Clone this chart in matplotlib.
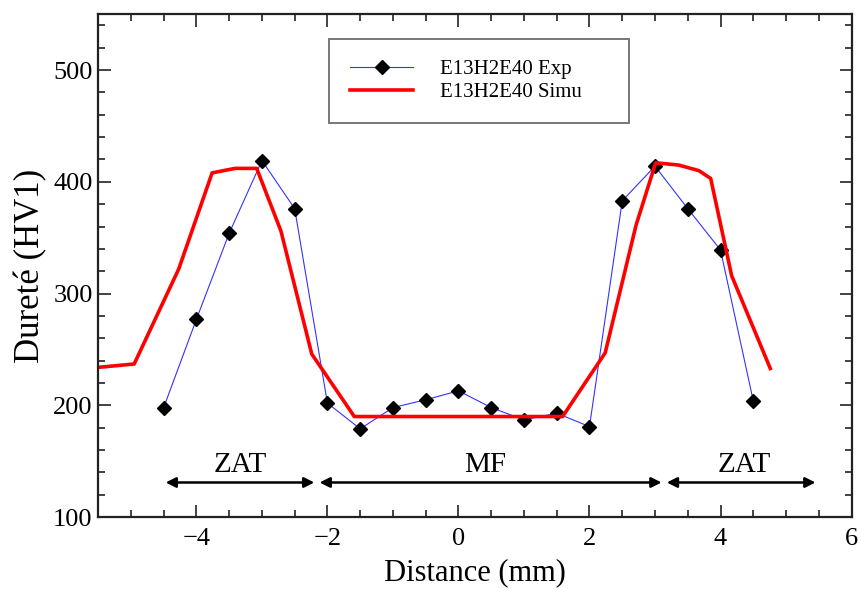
import matplotlib
matplotlib.use("Agg")
import matplotlib.pyplot as plt
from matplotlib.ticker import MultipleLocator

plt.rcParams['font.family'] = ['Liberation Serif', 'DejaVu Serif']

# experimental hardness
x_exp = [-4.5, -4.0, -3.5, -3.0, -2.5, -2.0, -1.5, -1.0, -0.5, 0.0,
         0.5, 1.0, 1.5, 2.0, 2.5, 3.0, 3.5, 4.0, 4.5]
hv_exp = [198, 277, 354, 419, 376, 202, 179, 198, 205, 213,
          198, 187, 193, 181, 383, 414, 376, 339, 204]

# simulated hardness
x_sim = [-5.5, -4.95, -4.27, -3.76, -3.41, -3.08, -2.71, -2.24, -1.59,
         1.59, 2.24, 2.71, 3.01, 3.36, 3.67, 3.85, 4.17, 4.76]
hv_sim = [234, 237, 322, 408, 412, 412, 356, 246, 190,
          190, 247, 361, 417, 415, 410, 403, 316, 233]

# zones (start, end, label, label x)
zones = [(-4.47, -2.2, 'ZAT', -3.33), (-2.12, 3.1, 'MF', 0.41), (3.18, 5.45, 'ZAT', 4.37)]
zone_y = 131

fig = plt.figure(figsize=(8.61, 5.89), dpi=100)
ax = fig.add_axes([0.114, 0.122, 0.875, 0.854])

ax.plot(x_exp, hv_exp, color='#3333ff', lw=0.8, marker='D', ms=7,
        mfc='black', mec='black', label='E13H2E40 Exp')
ax.plot(x_sim, hv_sim, color='red', lw=2.6, label='E13H2E40 Simu')

for x0, x1, lab, xt in zones:
    ax.annotate('', xy=(x1, zone_y), xytext=(x0, zone_y),
                arrowprops=dict(arrowstyle='<|-|>', color='black', lw=1.8,
                                mutation_scale=15, shrinkA=0, shrinkB=0))
    ax.text(xt, zone_y + 4, lab, ha='center', va='bottom', fontsize=21)

ax.set_xlim(-5.5, 6)
ax.set_ylim(100, 550)
ax.xaxis.set_major_locator(MultipleLocator(2))
ax.xaxis.set_minor_locator(MultipleLocator(0.5))
ax.yaxis.set_major_locator(MultipleLocator(100))
ax.yaxis.set_minor_locator(MultipleLocator(20))
ax.tick_params(which='both', direction='in', top=True, right=True, labelsize=19,
               colors='#222222', labelcolor='black')
ax.tick_params(which='major', length=9, width=1.2)
ax.tick_params(which='minor', length=5, width=1.2)
ax.tick_params(axis='x', pad=8)
ax.tick_params(axis='y', pad=4)
ax.set_yticks([100, 200, 300, 400, 500])
ax.set_xlabel('Distance (mm)', fontsize=22, labelpad=6)
ax.set_ylabel('Dureté (HV1)', fontsize=25, labelpad=4)
for s in ax.spines.values():
    s.set_linewidth(1.6)
    s.set_color('#222222')

leg = ax.legend(loc='upper left', bbox_to_anchor=(0.307, 0.951), fontsize=15,
                handlelength=3.0, fancybox=False, edgecolor='#777777',
                borderpad=1.0, borderaxespad=0, labelspacing=0.15,
                handletextpad=1.3, framealpha=1)
leg.get_frame().set_linewidth(1.4)
for t in leg.get_texts():
    t.set_text(t.get_text() + '     ')

fig.savefig('out.png', dpi=100)
